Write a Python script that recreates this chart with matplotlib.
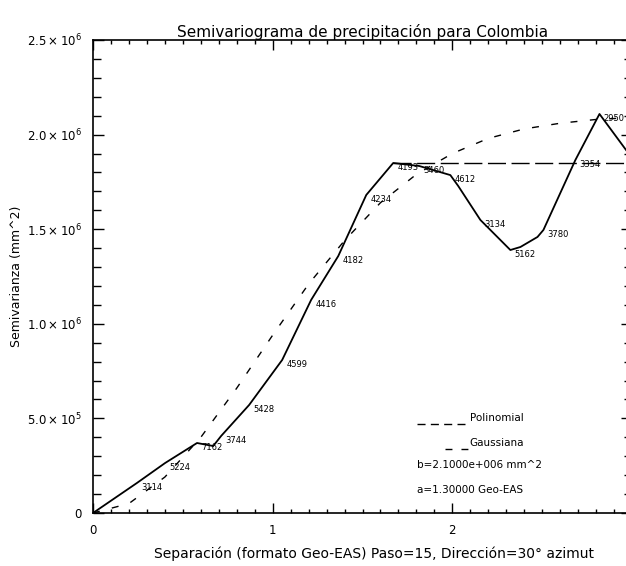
import matplotlib
matplotlib.use("Agg")
import matplotlib.pyplot as plt
from matplotlib.ticker import MultipleLocator, FixedLocator, FixedFormatter

# semivariograma experimental (separacion, semivarianza, numero de pares)
lag = [0.0, 0.245, 0.401, 0.579, 0.669, 0.713, 0.869, 1.053, 1.214, 1.365,
       1.521, 1.671, 1.816, 1.989, 2.033, 2.156, 2.323, 2.379, 2.474, 2.507,
       2.685, 2.819, 3.0]
gamma = [0.0, 0.159e6, 0.264e6, 0.370e6, 0.354e6, 0.407e6, 0.571e6, 0.809e6,
         1.126e6, 1.358e6, 1.681e6, 1.850e6, 1.834e6, 1.786e6, 1.728e6,
         1.549e6, 1.390e6, 1.406e6, 1.459e6, 1.496e6, 1.866e6, 2.109e6, 1.876e6]
pairs = ["", "3114", "5224", "7162", "", "3744", "5428", "4599", "4416",
         "4182", "4234", "4193", "3460", "4612", "", "3134", "5162", "", "",
         "3780", "3354", "2950", ""]

# modelo gaussiano
gauss_h = [0.0, 0.2, 0.4, 0.6, 0.8, 1.0, 1.2, 1.4, 1.6, 1.8, 2.0, 2.2, 2.4,
           2.6, 2.8, 3.0]
gauss_g = [0.0, 0.05e6, 0.19e6, 0.40e6, 0.66e6, 0.94e6, 1.21e6, 1.44e6,
           1.64e6, 1.79e6, 1.90e6, 1.98e6, 2.03e6, 2.06e6, 2.08e6, 2.09e6]

# modelo polinomial (tramo visible)
poly_h = [1.671, 3.0]
poly_g = [1.85e6, 1.85e6]

ytick_vals = [0, 0.5e6, 1.0e6, 1.5e6, 2.0e6, 2.5e6]
ytick_text = ["0", r"$5.0\times10^5$", r"$1.0\times10^6$", r"$1.5\times10^6$",
              r"$2.0\times10^6$", r"$2.5\times10^6$"]

fig = plt.figure(figsize=(6.26, 5.66), dpi=100)
ax = fig.add_axes([93 / 626, 53 / 566, 539 / 626, 473 / 566])

ax.plot(lag, gamma, color="black", lw=1.3)
ax.plot(gauss_h, gauss_g, color="black", lw=1.0, dashes=(5, 9))
ax.plot(poly_h, poly_g, color="black", lw=1.0, dashes=(13, 4))

for x, y, s in zip(lag, gamma, pairs):
    if s:
        ax.annotate(s, (x, y), xytext=(3, -3), textcoords="offset points",
                    fontsize=6, ha="left", va="center")

ax.set_xlim(0, 3)
ax.set_ylim(0, 2.5e6)
ax.xaxis.set_major_locator(MultipleLocator(1))
ax.xaxis.set_minor_locator(MultipleLocator(0.1))
ax.yaxis.set_major_locator(FixedLocator(ytick_vals))
ax.yaxis.set_major_formatter(FixedFormatter(ytick_text))
ax.yaxis.set_minor_locator(MultipleLocator(1e5))

ax.tick_params(which="both", direction="in", top=True, right=True,
               labelsize=8.5, width=1.0)
ax.tick_params(axis="x", which="major", length=7.5, pad=8)
ax.tick_params(axis="x", which="minor", length=3)
ax.tick_params(axis="y", which="major", length=8, pad=8)
ax.tick_params(axis="y", which="minor", length=6)
for sp in ax.spines.values():
    sp.set_linewidth(1.2)

ax.set_title("Semivariograma de precipitación para Colombia", fontsize=11, pad=2)
ax.set_xlabel("Separación (formato Geo-EAS) Paso=15, Dirección=30° azimut",
              fontsize=10)
ax.xaxis.set_label_coords(0.521, -0.07)
ax.set_ylabel("Semivarianza (mm^2)", fontsize=9, labelpad=3)

# leyenda
ax.plot([0.601, 0.690], [0.188, 0.188], transform=ax.transAxes, color="black",
        lw=1.0, dashes=(5.8, 3.8))
ax.text(0.699, 0.201, "Polinomial", transform=ax.transAxes, fontsize=7.5,
        va="center")
ax.plot([0.653, 0.696], [0.135, 0.135], transform=ax.transAxes, color="black",
        lw=1.0, dashes=(5, 6.5))
ax.text(0.699, 0.148, "Gaussiana", transform=ax.transAxes, fontsize=7.5,
        va="center")
ax.text(0.601, 0.101, "b=2.1000e+006 mm^2", transform=ax.transAxes,
        fontsize=7.5, va="center")
ax.text(0.601, 0.049, "a=1.30000 Geo-EAS", transform=ax.transAxes,
        fontsize=7.5, va="center")

fig.savefig("out.png", dpi=100)
